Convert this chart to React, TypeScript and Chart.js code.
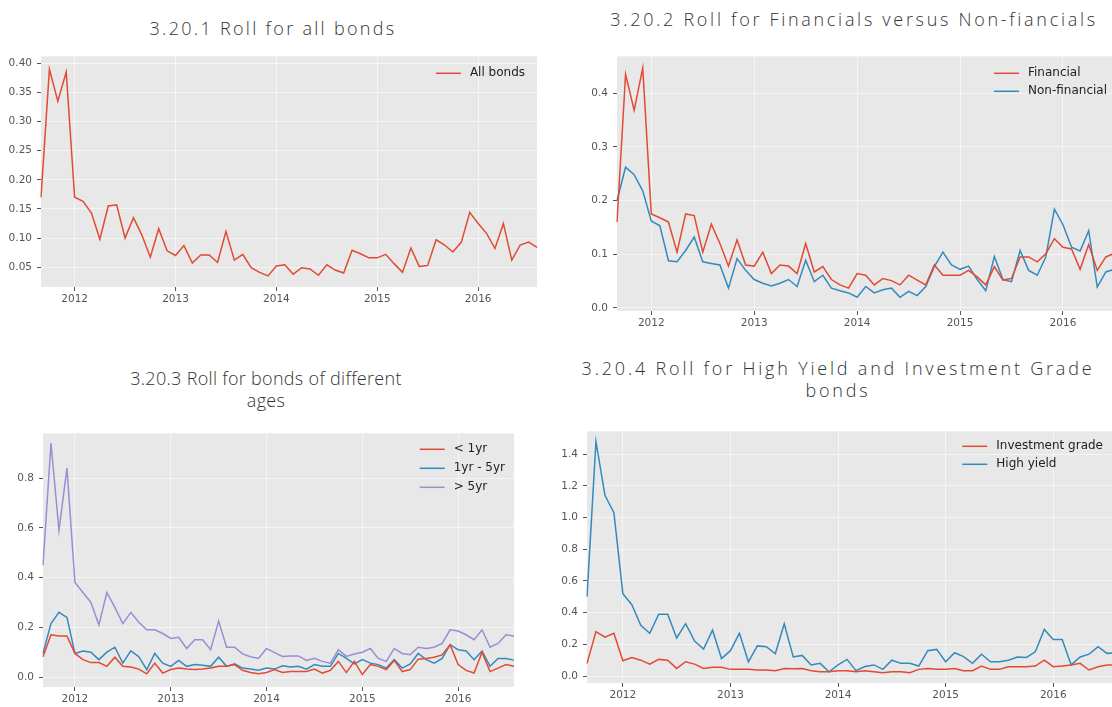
import React, { useEffect, useRef } from "react";
import { Chart, registerables } from "chart.js";

Chart.register(...registerables);

// ---------- data ----------
const months = [
  "2011-09", "2011-10", "2011-11", "2011-12",
  "2012-01", "2012-02", "2012-03", "2012-04", "2012-05", "2012-06", "2012-07", "2012-08", "2012-09", "2012-10", "2012-11", "2012-12",
  "2013-01", "2013-02", "2013-03", "2013-04", "2013-05", "2013-06", "2013-07", "2013-08", "2013-09", "2013-10", "2013-11", "2013-12",
  "2014-01", "2014-02", "2014-03", "2014-04", "2014-05", "2014-06", "2014-07", "2014-08", "2014-09", "2014-10", "2014-11", "2014-12",
  "2015-01", "2015-02", "2015-03", "2015-04", "2015-05", "2015-06", "2015-07", "2015-08", "2015-09", "2015-10", "2015-11", "2015-12",
  "2016-01", "2016-02", "2016-03", "2016-04", "2016-05", "2016-06", "2016-07", "2016-08",
];
const yearTickMonths = ["2012-01", "2013-01", "2014-01", "2015-01", "2016-01"];

const allBonds = [
  0.17, 0.39, 0.335, 0.385, 0.17, 0.163, 0.143, 0.098, 0.155, 0.157,
  0.1, 0.135, 0.105, 0.067, 0.116, 0.078, 0.07, 0.087, 0.057, 0.071,
  0.071, 0.058, 0.111, 0.062, 0.072, 0.049, 0.041, 0.035, 0.052, 0.054,
  0.038, 0.049, 0.047, 0.036, 0.054, 0.045, 0.04, 0.079, 0.073, 0.066,
  0.066, 0.072, 0.056, 0.041, 0.083, 0.051, 0.053, 0.097, 0.088, 0.076,
  0.093, 0.144, 0.125, 0.108, 0.082, 0.125, 0.062, 0.088, 0.093, 0.084,
];

const financial = [
  0.16, 0.435, 0.368, 0.447, 0.175, 0.168, 0.16, 0.104, 0.175, 0.172,
  0.104, 0.156, 0.12, 0.078, 0.127, 0.08, 0.078, 0.104, 0.064, 0.08,
  0.078, 0.064, 0.12, 0.067, 0.077, 0.053, 0.043, 0.037, 0.064, 0.061,
  0.043, 0.055, 0.051, 0.043, 0.061, 0.052, 0.043, 0.08, 0.061, 0.061,
  0.061, 0.07, 0.058, 0.043, 0.077, 0.052, 0.055, 0.095, 0.095, 0.086,
  0.101, 0.129, 0.113, 0.11, 0.072, 0.118, 0.07, 0.095, 0.102, 0.105,
];
const nonFinancial = [
  0.2, 0.262, 0.248, 0.218, 0.162, 0.153, 0.088, 0.086, 0.107, 0.132,
  0.086, 0.083, 0.08, 0.037, 0.092, 0.07, 0.053, 0.046, 0.041, 0.046,
  0.053, 0.04, 0.089, 0.049, 0.061, 0.037, 0.032, 0.028, 0.02, 0.04,
  0.028, 0.034, 0.037, 0.02, 0.031, 0.023, 0.04, 0.077, 0.104, 0.08,
  0.072, 0.078, 0.053, 0.032, 0.096, 0.053, 0.049, 0.107, 0.07, 0.061,
  0.095, 0.184, 0.155, 0.113, 0.106, 0.144, 0.039, 0.067, 0.072, 0.074,
];

const lessThan1yr = [
  0.082, 0.17, 0.165, 0.165, 0.095, 0.07, 0.058, 0.058, 0.043, 0.08,
  0.043, 0.04, 0.032, 0.013, 0.056, 0.016, 0.03, 0.036, 0.032, 0.03,
  0.032, 0.036, 0.043, 0.043, 0.05, 0.027, 0.018, 0.013, 0.018, 0.03,
  0.018, 0.022, 0.022, 0.022, 0.032, 0.016, 0.027, 0.063, 0.018, 0.063,
  0.01, 0.05, 0.043, 0.03, 0.067, 0.022, 0.03, 0.072, 0.075, 0.08,
  0.089, 0.13, 0.05, 0.027, 0.016, 0.1, 0.022, 0.036, 0.05, 0.043,
];
const oneToFiveYr = [
  0.095, 0.215, 0.26, 0.24, 0.095, 0.105, 0.1, 0.07, 0.1, 0.12,
  0.056, 0.105, 0.082, 0.03, 0.095, 0.056, 0.043, 0.067, 0.043, 0.05,
  0.047, 0.043, 0.08, 0.043, 0.053, 0.036, 0.032, 0.027, 0.036, 0.032,
  0.045, 0.04, 0.043, 0.032, 0.05, 0.043, 0.043, 0.095, 0.075, 0.053,
  0.07, 0.056, 0.05, 0.036, 0.07, 0.036, 0.053, 0.095, 0.07, 0.056,
  0.075, 0.13, 0.11, 0.105, 0.07, 0.105, 0.043, 0.075, 0.075, 0.068,
];
const moreThan5yr = [
  0.45, 0.94, 0.59, 0.84, 0.38, 0.34, 0.3, 0.21, 0.34, 0.28,
  0.215, 0.26, 0.22, 0.19, 0.19, 0.175, 0.155, 0.16, 0.115, 0.15,
  0.15, 0.11, 0.225, 0.12, 0.12, 0.093, 0.082, 0.075, 0.115, 0.098,
  0.083, 0.085, 0.085, 0.067, 0.075, 0.063, 0.056, 0.11, 0.083, 0.093,
  0.1, 0.115, 0.075, 0.063, 0.115, 0.095, 0.09, 0.12, 0.115, 0.12,
  0.135, 0.19, 0.185, 0.17, 0.15, 0.19, 0.12, 0.135, 0.17, 0.165,
];

const investmentGrade = [
  0.08, 0.28, 0.245, 0.27, 0.096, 0.117, 0.1, 0.075, 0.105, 0.1,
  0.048, 0.09, 0.075, 0.048, 0.055, 0.055, 0.042, 0.042, 0.042, 0.038,
  0.038, 0.034, 0.048, 0.046, 0.048, 0.034, 0.027, 0.027, 0.034, 0.034,
  0.027, 0.034, 0.027, 0.021, 0.027, 0.027, 0.021, 0.042, 0.048, 0.042,
  0.042, 0.048, 0.034, 0.034, 0.063, 0.042, 0.042, 0.059, 0.059, 0.059,
  0.063, 0.1, 0.059, 0.063, 0.07, 0.08, 0.038, 0.059, 0.07, 0.07,
];
const highYield = [
  0.5, 1.48, 1.14, 1.03, 0.52, 0.45, 0.32, 0.27, 0.39, 0.39,
  0.24, 0.33, 0.22, 0.17, 0.29, 0.11, 0.16, 0.27, 0.09, 0.19,
  0.185, 0.14, 0.33, 0.12, 0.13, 0.07, 0.08, 0.027, 0.07, 0.105,
  0.034, 0.06, 0.07, 0.042, 0.1, 0.08, 0.08, 0.063, 0.16, 0.168,
  0.09, 0.147, 0.122, 0.08, 0.138, 0.09, 0.09, 0.1, 0.12, 0.117,
  0.153, 0.294, 0.23, 0.23, 0.07, 0.12, 0.138, 0.185, 0.143, 0.147,
];

const yTicks1 = [0.05, 0.1, 0.15, 0.2, 0.25, 0.3, 0.35, 0.4];
const yTicks2 = [0.0, 0.1, 0.2, 0.3, 0.4];
const yTicks3 = [0.0, 0.2, 0.4, 0.6, 0.8];
const yTicks4 = [0.0, 0.2, 0.4, 0.6, 0.8, 1.0, 1.2, 1.4];

const RED = "#E24A33";
const BLUE = "#348ABD";
const PURPLE = "#988ED5";

// ---------- plugins ----------
const plotBg = {
  id: "plotBg",
  beforeDraw(chart: any) {
    const { ctx, chartArea } = chart;
    ctx.save();
    ctx.fillStyle = "#E8E8E8";
    ctx.fillRect(chartArea.left, chartArea.top, chartArea.right - chartArea.left, chartArea.bottom - chartArea.top);
    ctx.restore();
  },
};

const insideLegend = {
  id: "insideLegend",
  afterDraw(chart: any, _args: any, opts: any) {
    const { ctx, chartArea } = chart;
    ctx.save();
    ctx.font = `${opts.fontSize}px "DejaVu Sans"`;
    const items = chart.data.datasets;
    const maxW = Math.max(...items.map((d: any) => ctx.measureText(d.label).width));
    const textX = chartArea.right - opts.marginRight - maxW;
    const lineX1 = textX - opts.gap;
    const lineX0 = lineX1 - opts.lineLen;
    items.forEach((d: any, i: number) => {
      const y = chartArea.top + opts.offsetTop + i * opts.rowH;
      ctx.strokeStyle = d.borderColor;
      ctx.lineWidth = 1.5;
      ctx.beginPath();
      ctx.moveTo(lineX0, y);
      ctx.lineTo(lineX1, y);
      ctx.stroke();
      ctx.fillStyle = "#222222";
      ctx.textBaseline = "middle";
      ctx.textAlign = "left";
      ctx.fillText(d.label, textX, y);
    });
    ctx.restore();
  },
};

type Series = { label: string; data: number[]; color: string };
type Panel = {
  left: number; top: number; width: number; height: number;
  yAxisW: number; xAxisH: number; padTop: number; padRight: number;
  yMin: number; yMax: number; yTicks: number[]; decimals: number;
  series: Series[];
  legend: { marginRight: number; offsetTop: number; rowH: number };
};

const TICK_FONT = { family: "DejaVu Sans", size: 10.5 };
const GRID = "rgba(255,255,255,0.55)";

function ChartPanel({ p }: { p: Panel }) {
  const ref = useRef<HTMLCanvasElement>(null);
  useEffect(() => {
    if (!ref.current) return;
    const yearIdx = yearTickMonths.map((m) => months.indexOf(m));
    const chart = new Chart(ref.current, {
      type: "line",
      data: {
        labels: months,
        datasets: p.series.map((s) => ({
          label: s.label,
          data: s.data,
          borderColor: s.color,
          backgroundColor: s.color,
          borderWidth: 1.5,
          pointRadius: 0,
          tension: 0,
          fill: false,
        })),
      },
      options: {
        animation: false,
        responsive: false,
        maintainAspectRatio: false,
        layout: { padding: { top: p.padTop, right: p.padRight, left: 0, bottom: 0 } },
        plugins: {
          legend: { display: false },
          tooltip: { enabled: false },
          title: { display: false },
          insideLegend: { fontSize: 12, gap: 9, lineLen: 25, ...p.legend },
        } as any,
        scales: {
          x: {
            type: "category",
            offset: false,
            border: { display: false },
            grid: { color: GRID, lineWidth: 1, tickColor: "#555555", tickLength: 4, drawOnChartArea: true },
            ticks: {
              autoSkip: false,
              maxRotation: 0,
              color: "#555555",
              font: TICK_FONT,
              padding: 2,
              callback: (v: any) => months[v as number].slice(0, 4),
            },
            afterBuildTicks: (s: any) => {
              s.ticks = yearIdx.map((i) => ({ value: i }));
            },
            afterFit: (s: any) => {
              s.height = p.xAxisH;
            },
          },
          y: {
            min: p.yMin,
            max: p.yMax,
            border: { display: false },
            grid: { color: GRID, lineWidth: 1, tickColor: "#555555", tickLength: 4 },
            ticks: {
              color: "#555555",
              font: TICK_FONT,
              padding: 5,
              callback: (v: any) => Number(v).toFixed(p.decimals),
            },
            afterBuildTicks: (s: any) => {
              s.ticks = p.yTicks.map((v) => ({ value: v }));
            },
            afterFit: (s: any) => {
              s.width = p.yAxisW;
            },
          },
        },
      } as any,
      plugins: [plotBg, insideLegend],
    });
    return () => chart.destroy();
  }, [p]);
  return (
    <canvas
      ref={ref}
      width={p.width}
      height={p.height}
      style={{ position: "absolute", left: p.left, top: p.top, width: p.width, height: p.height }}
    />
  );
}

const panels: Panel[] = [
  {
    left: 0, top: 45, width: 543, height: 268, yAxisW: 41, xAxisH: 26, padTop: 10, padRight: 6,
    yMin: 0.0159, yMax: 0.412, yTicks: yTicks1, decimals: 2,
    series: [{ label: "All bonds", data: allBonds, color: RED }],
    legend: { marginRight: 12, offsetTop: 17, rowH: 18.5 },
  },
  {
    left: 575, top: 45, width: 550, height: 292, yAxisW: 42, xAxisH: 26, padTop: 10, padRight: 2,
    yMin: -0.0056, yMax: 0.4685, yTicks: yTicks2, decimals: 1,
    series: [
      { label: "Financial", data: financial, color: RED },
      { label: "Non-financial", data: nonFinancial, color: BLUE },
    ],
    legend: { marginRight: 16, offsetTop: 17, rowH: 18 },
  },
  {
    left: 0, top: 422, width: 520, height: 285, yAxisW: 43, xAxisH: 20, padTop: 10, padRight: 6,
    yMin: -0.04, yMax: 0.98, yTicks: yTicks3, decimals: 1,
    series: [
      { label: "< 1yr", data: lessThan1yr, color: RED },
      { label: "1yr - 5yr", data: oneToFiveYr, color: BLUE },
      { label: "> 5yr", data: moreThan5yr, color: PURPLE },
    ],
    legend: { marginRight: 9, offsetTop: 16, rowH: 19 },
  },
  {
    left: 545, top: 420, width: 575, height: 287, yAxisW: 42, xAxisH: 24, padTop: 10, padRight: 4,
    yMin: -0.044, yMax: 1.544, yTicks: yTicks4, decimals: 1,
    series: [
      { label: "Investment grade", data: investmentGrade, color: RED },
      { label: "High yield", data: highYield, color: BLUE },
    ],
    legend: { marginRight: 13, offsetTop: 15, rowH: 18 },
  },
];

const titleStyle: React.CSSProperties = {
  position: "absolute",
  fontFamily: '"Open Sans", Roboto, sans-serif',
  fontWeight: 300,
  fontSize: 18,
  color: "#333333",
  textAlign: "center",
  lineHeight: "22px",
  whiteSpace: "nowrap",
  transform: "translateX(-50%)",
};

export default function App() {
  return (
    <div
      style={{
        position: "fixed",
        left: 0,
        top: 0,
        width: 1112,
        height: 707,
        overflow: "hidden",
        background: "#FFFFFF",
      }}
    >
      <div style={{ ...titleStyle, left: 273, top: 17, letterSpacing: "2.3px" }}>3.20.1 Roll for all bonds</div>
      <div style={{ ...titleStyle, left: 854, top: 8, letterSpacing: "2.7px" }}>3.20.2 Roll for Financials versus Non-fiancials</div>
      <div style={{ ...titleStyle, left: 266, top: 367, letterSpacing: "0.3px" }}>
        3.20.3 Roll for bonds of different
        <br />
        ages
      </div>
      <div style={{ ...titleStyle, left: 838, top: 357, letterSpacing: "2.8px" }}>
        3.20.4 Roll for High Yield and Investment Grade
        <br />
        bonds
      </div>
      {panels.map((p, i) => (
        <ChartPanel key={i} p={p} />
      ))}
    </div>
  );
}
